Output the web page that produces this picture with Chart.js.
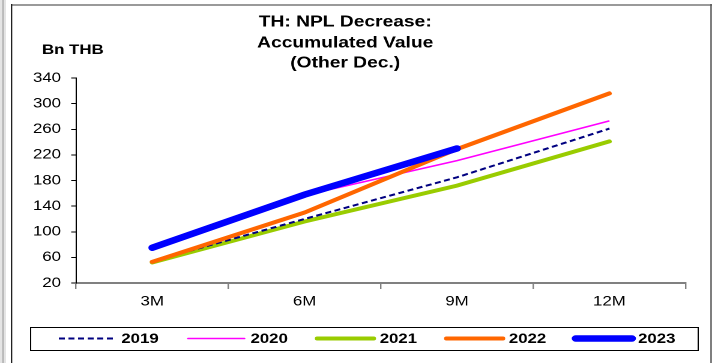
<!DOCTYPE html>
<html>
<head>
<meta charset="utf-8">
<script src="https://cdn.jsdelivr.net/npm/chart.js@4"></script>
<style>
  html, body { margin: 0; padding: 0; background: #fff; overflow: hidden; }
  /* the reference is a horizontally stretched picture, so the chart is drawn narrower and stretched */
  #wrap { width: 593px; height: 363px; transform: scaleX(1.2007); transform-origin: 0 0; }
</style>
</head>
<body>
<div id="wrap"><canvas id="nplChart"></canvas></div>
<script>
const categories = ['3M', '6M', '9M', '12M'];
const seriesNames = ['2019', '2020', '2021', '2022', '2023'];
const v2019 = [54, 120, 185, 261];
const v2020 = [75, 157, 211, 273];
const v2021 = [52, 116, 172, 241];
const v2022 = [53, 130, 229, 316];
const v2023 = [75, 158, 230];
const yMin = 20, yMax = 340, yStep = 40;
const titleLines = ['TH: NPL Decrease:', 'Accumulated Value', '(Other Dec.)'];
const unitLabel = 'Bn THB';

const FONT = "'Liberation Sans', Arial, sans-serif";

const frame = {
  id: 'frame',
  beforeDraw(chart) {
    const c = chart.ctx, w = chart.width, h = chart.height;
    c.save();
    c.fillStyle = '#fff';
    c.fillRect(0, 0, w, h);
    c.fillStyle = '#e4e4e4';
    c.fillRect(0, 0, 5, h);
    c.strokeStyle = '#a8a8a8';
    c.lineWidth = 1;
    c.beginPath(); c.moveTo(2.5, 0); c.lineTo(2.5, h); c.stroke();
    c.strokeStyle = '#9a9a9a';
    c.lineWidth = 2;
    c.beginPath(); c.moveTo(9.5, 5); c.lineTo(w, 5); c.stroke();
    c.strokeStyle = '#222';
    c.lineWidth = 1.2;
    c.beginPath(); c.moveTo(9.6, 4); c.lineTo(9.6, h); c.stroke();
    c.strokeStyle = '#555';
    c.beginPath(); c.moveTo(w - 0.8, 4); c.lineTo(w - 0.8, h); c.stroke();
    c.restore();
  }
};

const titles = {
  id: 'titles',
  afterDraw(chart) {
    const c = chart.ctx;
    c.save();
    c.fillStyle = '#000';
    c.textBaseline = 'middle';
    c.textAlign = 'center';
    c.font = 'bold 16px ' + FONT;
    const ys = [22, 43, 63];
    titleLines.forEach((t, i) => c.fillText(t, 287.5, ys[i]));
    c.textAlign = 'left';
    c.font = 'bold 14px ' + FONT;
    c.fillText(unitLabel, 35, 50);
    c.restore();
  }
};

const boxLegend = {
  id: 'boxLegend',
  afterDraw(chart) {
    const c = chart.ctx;
    const top = 327, bottom = 350, mid = (top + bottom) / 2;
    c.save();
    c.strokeStyle = '#000';
    c.lineWidth = 1;
    c.strokeRect(25.5, top + 0.5, 556, bottom - top);
    c.font = 'bold 14px ' + FONT;
    c.textBaseline = 'middle';
    c.textAlign = 'left';
    chart.data.datasets.forEach((ds, i) => {
      const x0 = 49 + i * 107.6;
      c.strokeStyle = ds.borderColor;
      c.lineWidth = ds.borderWidth;
      c.lineCap = ds.borderDash ? 'butt' : 'round';
      c.setLineDash(ds.borderDash || []);
      c.beginPath(); c.moveTo(x0, mid); c.lineTo(x0 + 47, mid); c.stroke();
      c.setLineDash([]);
      c.fillStyle = '#000';
      c.fillText(ds.label, x0 + 52, mid + 0.5);
    });
    c.restore();
  }
};

new Chart(document.getElementById('nplChart'), {
  type: 'line',
  data: {
    labels: categories,
    datasets: [
      { label: seriesNames[0], data: v2019, borderColor: '#000080', borderWidth: 2, borderDash: [5, 3], order: 2 },
      { label: seriesNames[1], data: v2020, borderColor: '#FF00FF', borderWidth: 1.6, order: 3 },
      { label: seriesNames[2], data: v2021, borderColor: '#99CC00', borderWidth: 4, borderCapStyle: 'round', order: 4 },
      { label: seriesNames[3], data: v2022, borderColor: '#FF6600', borderWidth: 4, borderCapStyle: 'round', order: 1 },
      { label: seriesNames[4], data: v2023, borderColor: '#0000FF', borderWidth: 6.5, borderCapStyle: 'round', order: 0 }
    ]
  },
  options: {
    responsive: true,
    maintainAspectRatio: false,
    animation: false,
    devicePixelRatio: 2,
    elements: { point: { radius: 0 }, line: { tension: 0 } },
    layout: { padding: { left: 10, right: 22, top: 78, bottom: 50 } },
    plugins: { legend: { display: false }, title: { display: false }, tooltip: { enabled: false } },
    scales: {
      x: {
        offset: true,
        grid: { offset: true, drawOnChartArea: false, tickLength: 6, color: '#808080', lineWidth: 1.2 },
        border: { color: '#808080', width: 2 },
        ticks: { color: '#000', font: { family: FONT, size: 14 }, padding: 4 },
        afterFit(scale) { scale.height = 30; }
      },
      y: {
        min: yMin,
        max: yMax,
        grid: { drawOnChartArea: false, tickLength: 4, color: '#000' },
        border: { color: '#000', width: 1 },
        ticks: { stepSize: yStep, color: '#000', font: { family: FONT, size: 14 }, padding: 8.5 },
        afterFit(scale) { scale.width = 53.3; }
      }
    }
  },
  plugins: [frame, titles, boxLegend]
});
</script>
</body>
</html>
